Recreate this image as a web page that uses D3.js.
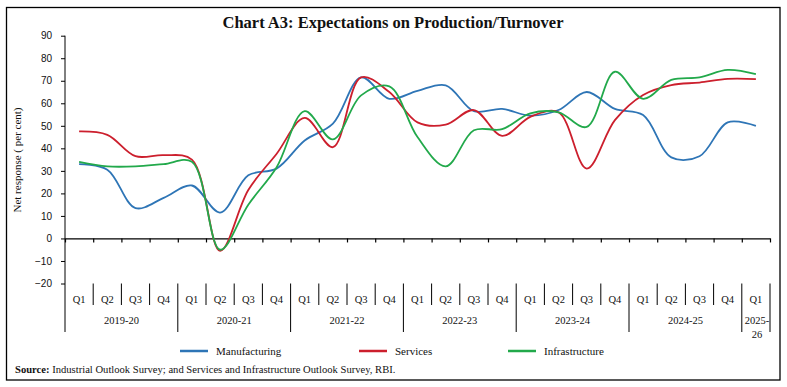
<!DOCTYPE html>
<html>
<head>
<meta charset="utf-8">
<script src="https://cdn.jsdelivr.net/npm/d3@7"></script>
<style>
    body { margin: 0; background: #fff; }
    svg { display: block; }
    text { font-family: "Liberation Serif", "DejaVu Serif", serif; fill: #111; }
    .ytick text { font-family: "Liberation Sans", Arial, sans-serif; }
</style>
</head>
<body>
<svg id="chart" width="787" height="387"></svg>
<script>
let width = 787;
let height = 387;

// quarters Q1 2019-20 .. Q1 2025-26
const quarters = ['Q1','Q2','Q3','Q4','Q1','Q2','Q3','Q4','Q1','Q2','Q3','Q4','Q1','Q2','Q3','Q4',
    'Q1','Q2','Q3','Q4','Q1','Q2','Q3','Q4','Q1'];
const years = ['2019-20', '2020-21', '2021-22', '2022-23', '2023-24', '2024-25', '2025-26'];
const yTicks = [-20, -10, 0, 10, 20, 30, 40, 50, 60, 70, 80, 90];

const manufacturing = [33, 30.5, 13.5, 18, 23.5, 11.5, 28, 31, 43.5, 51, 71.5, 62, 65.5, 68,
    56.5, 57.5, 54.5, 57, 65, 57.5, 54.8, 36, 36.5, 51.5, 50];
const services = [47.5, 46, 36.5, 37, 35, -5.5, 21.5, 37.5, 53.5, 40.5, 71.5, 65, 51.5, 50.5,
    57, 45.5, 54, 56, 31, 52.5, 63.7, 68.1, 69.2, 70.8, 70.7];
const infrastructure = [34, 32, 32, 33, 34, -5, 15, 31.5, 56.5, 44, 63.5, 67.5, 45, 32,
    48, 48.5, 55.5, 56, 49.5, 74, 62, 70.4, 71.5, 74.8, 72.9];

const seriesNames = ['Manufacturing', 'Services', 'Infrastructure'];
const colors = ['#2e75b6', '#cc1f2d', '#22a94b'];

const plotLeft = 65, plotRight = 770;
const lowY = 283.5; // -20 level, label area starts here

const main = () => {
    let svg = d3.select('#chart');

    // outer frame
    svg.append('rect')
        .attr('x', 6.5).attr('y', 7.5)
        .attr('width', 773.5).attr('height', 372.5)
        .attr('fill', 'none').attr('stroke', '#000').attr('stroke-width', 1.3);

    svg.append('text')
        .attr('x', 393).attr('y', 28)
        .attr('text-anchor', 'middle')
        .style('font-size', '16.5px').style('font-weight', 'bold')
        .text('Chart A3: Expectations on Production/Turnover');

    let xBand = d3.scaleBand()
        .domain(d3.range(quarters.length))
        .range([plotLeft, plotRight]);
    let xMid = i => xBand(i) + xBand.bandwidth() / 2;

    let y = d3.scaleLinear().domain([-20, 90]).range([lowY, 35.7]);

    // y axis
    let yAxis = svg.append('g')
        .attr('class', 'ytick')
        .attr('transform', `translate(${plotLeft},0)`)
        .call(d3.axisLeft(y).tickValues(yTicks).tickSize(4).tickPadding(9));
    yAxis.select('.domain').remove();
    yAxis.selectAll('line').attr('stroke', '#000');
    yAxis.selectAll('text').style('font-size', '10px').attr('fill', '#222');

    svg.append('text')
        .attr('transform', 'translate(21,160) rotate(-90)')
        .attr('text-anchor', 'middle')
        .style('font-size', '11px')
        .text('Net  response  ( per cent)');

    // zero axis with ticks at category borders
    let zeroAxis = svg.append('g')
        .attr('transform', `translate(0,${y(0)})`)
        .call(d3.axisBottom(d3.scaleLinear().domain([0, quarters.length]).range([plotLeft, plotRight]))
            .tickValues(d3.range(quarters.length + 1)).tickSize(4).tickSizeOuter(0).tickFormat(''));
    zeroAxis.selectAll('line, path').attr('stroke', '#000').attr('stroke-width', 1.2);

    // vertical axis line running down into the label area
    svg.append('line')
        .attr('x1', plotLeft).attr('x2', plotLeft)
        .attr('y1', y(90)).attr('y2', 332)
        .attr('stroke', '#000');

    // category separators
    let bounds = d3.range(1, quarters.length + 1);
    svg.append('g').selectAll('line')
        .data(bounds)
        .join('line')
        .attr('x1', d => xBand(d - 1) + xBand.bandwidth())
        .attr('x2', d => xBand(d - 1) + xBand.bandwidth())
        .attr('y1', lowY)
        .attr('y2', d => (d % 4 == 0 || d == quarters.length) ? 332 : 305)
        .attr('stroke', '#000');

    svg.append('g').selectAll('text')
        .data(quarters)
        .join('text')
        .attr('x', (d, i) => xMid(i))
        .attr('y', 303)
        .attr('text-anchor', 'middle')
        .style('font-size', '10.5px')
        .text(d => d);

    // year labels, last one wraps
    years.forEach((yr, k) => {
        let first = k * 4;
        let last = Math.min(first + 3, quarters.length - 1);
        let cx = (xBand(first) + xBand(last) + xBand.bandwidth()) / 2;
        if (last == first) {
            let parts = [yr.slice(0, 5), yr.slice(5)];
            svg.append('text').attr('x', cx + 1).attr('y', 324).attr('text-anchor', 'middle')
                .style('font-size', '10.5px').text(parts[0]);
            svg.append('text').attr('x', cx + 1).attr('y', 338).attr('text-anchor', 'middle')
                .style('font-size', '10.5px').text(parts[1]);
        } else {
            svg.append('text').attr('x', cx).attr('y', 324).attr('text-anchor', 'middle')
                .style('font-size', '10.5px').text(yr);
        }
    });

    // lines
    let lineGen = d3.line()
        .x((d, i) => xMid(i))
        .y(d => y(d))
        .curve(d3.curveCatmullRom.alpha(0.5));

    [manufacturing, services, infrastructure].forEach((vals, k) => {
        svg.append('path')
            .datum(vals)
            .attr('d', lineGen)
            .attr('fill', 'none')
            .attr('stroke', colors[k])
            .attr('stroke-width', 1.8);
    });

    // legend
    const legendX = [180, 359, 508];
    seriesNames.forEach((name, k) => {
        svg.append('line')
            .attr('x1', legendX[k]).attr('x2', legendX[k] + 28)
            .attr('y1', 351).attr('y2', 351)
            .attr('stroke', colors[k]).attr('stroke-width', 2.5);
        svg.append('text')
            .attr('x', legendX[k] + 36).attr('y', 354.5)
            .style('font-size', '11px')
            .text(name);
    });

    // source note
    let src = svg.append('text')
        .attr('x', 15).attr('y', 373)
        .style('font-size', '10.6px');
    src.append('tspan').style('font-weight', 'bold').text('Source:');
    src.append('tspan').text(' Industrial Outlook Survey; and Services and Infrastructure Outlook Survey, RBI.');
}

main();
</script>
</body>
</html>
